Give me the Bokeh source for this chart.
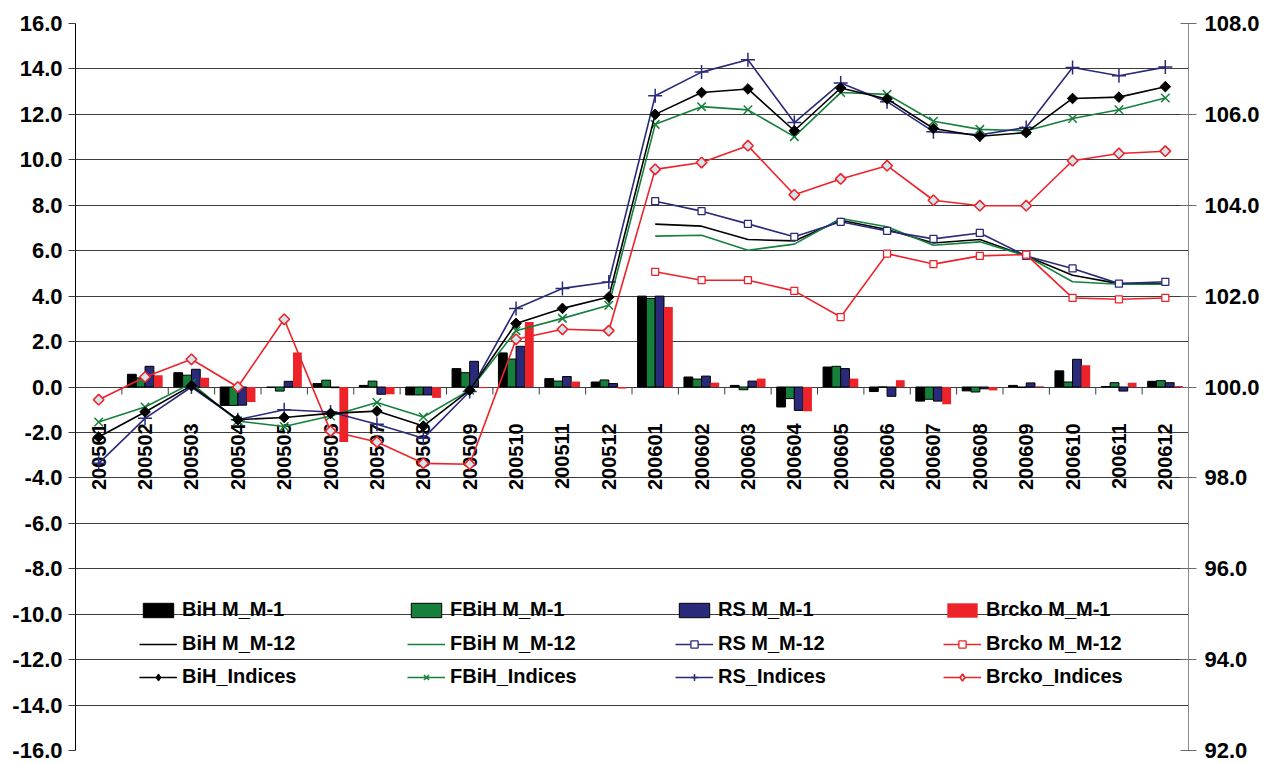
import numpy as np
from bokeh.plotting import figure
from bokeh.models import (ColumnDataSource, Range1d, LinearAxis, FixedTicker,
                          NumeralTickFormatter, Legend, LegendItem)
from bokeh.transform import dodge
from bokeh.core.properties import value
from bokeh.embed import file_html
from bokeh.resources import INLINE

nan = np.nan

categories = ["200501", "200502", "200503", "200504", "200505", "200506",
              "200507", "200508", "200509", "200510", "200511", "200512",
              "200601", "200602", "200603", "200604", "200605", "200606",
              "200607", "200608", "200609", "200610", "200611", "200612"]

# month-on-month change (left axis)
bih_m1 = [nan, 0.56, 0.63, -0.81, -0.02, 0.15, 0.07, -0.35, 0.81, 1.50, 0.37, 0.22,
          4.00, 0.44, 0.07, -0.88, 0.88, -0.20, -0.62, -0.17, 0.07, 0.71, 0.02, 0.25]
fbih_m1 = [nan, 0.40, 0.52, -0.81, -0.18, 0.30, 0.26, -0.35, 0.63, 1.23, 0.26, 0.31,
           3.90, 0.35, -0.12, -0.51, 0.91, 0.00, -0.54, -0.22, -0.02, 0.22, 0.19, 0.28]
rs_m1 = [nan, 0.91, 0.78, -0.80, 0.25, -0.03, -0.32, -0.35, 1.13, 1.79, 0.46, 0.15,
         4.00, 0.48, 0.26, -1.03, 0.81, -0.41, -0.62, -0.08, 0.18, 1.22, -0.18, 0.19]
brcko_m1 = [nan, 0.52, 0.41, -0.66, 1.52, -2.42, -0.32, -0.48, -0.05, 2.86, 0.24, -0.07,
            3.52, 0.19, 0.37, -1.07, 0.37, 0.30, -0.76, -0.15, 0.03, 0.96, 0.19, 0.04]

# year-on-year change (left axis)
bih_m12 = [nan] * 12 + [7.17, 7.08, 6.49, 6.43, 7.34, 6.93, 6.34, 6.49, 5.77, 4.92, 4.55, 4.55]
fbih_m12 = [nan] * 12 + [6.64, 6.68, 6.02, 6.29, 7.42, 7.05, 6.24, 6.39, 5.77, 4.63, 4.52, 4.52]
rs_m12 = [nan] * 12 + [8.18, 7.74, 7.18, 6.61, 7.27, 6.87, 6.52, 6.78, 5.77, 5.22, 4.55, 4.63]
brcko_m12 = [nan] * 12 + [5.07, 4.70, 4.70, 4.23, 3.08, 5.87, 5.41, 5.77, 5.83, 3.92, 3.86, 3.92]

# indices (right axis)
bih_idx = [98.90, 99.45, 100.03, 99.28, 99.33, 99.42, 99.47, 99.14, 99.93, 101.40, 101.73, 101.98,
           106.00, 106.48, 106.56, 105.64, 106.58, 106.34, 105.69, 105.52, 105.60, 106.35, 106.38, 106.61]
fbih_idx = [99.23, 99.56, 100.08, 99.25, 99.13, 99.36, 99.66, 99.34, 99.93, 101.24, 101.51, 101.80,
            105.78, 106.17, 106.10, 105.51, 106.48, 106.44, 105.85, 105.67, 105.64, 105.91, 106.10, 106.36]
rs_idx = [98.32, 99.31, 100.00, 99.28, 99.50, 99.45, 99.18, 98.87, 99.90, 101.73, 102.17, 102.31,
          106.41, 106.93, 107.20, 105.82, 106.69, 106.28, 105.62, 105.55, 105.71, 107.03, 106.85, 107.04]
brcko_idx = [99.72, 100.22, 100.61, 100.00, 101.49, 99.03, 98.79, 98.32, 98.30, 101.05, 101.27, 101.24,
             104.79, 104.94, 105.31, 104.23, 104.58, 104.87, 104.11, 103.99, 103.99, 104.98, 105.14, 105.19]

left_ticks = list(range(-16, 17, 2))
right_ticks = list(range(92, 109, 2))

FONT = "Liberation Sans"
BLACK = "#000000"
GREEN = "#15803b"
NAVY = "#2a2a7a"
RED = "#ee2229"
DIAFILL = "#d2e6ee"
GRID = "#3c3c3c"

n = len(categories)
xs = list(range(n))
src = ColumnDataSource(dict(
    x=xs, cat=categories,
    bih_m1=bih_m1, fbih_m1=fbih_m1, rs_m1=rs_m1, brcko_m1=brcko_m1,
    bih_m12=bih_m12, fbih_m12=fbih_m12, rs_m12=rs_m12, brcko_m12=brcko_m12,
    bih_idx=bih_idx, fbih_idx=fbih_idx, rs_idx=rs_idx, brcko_idx=brcko_idx,
))
bsrc = ColumnDataSource(dict(xb=[i + 0.5 for i in range(n - 1)]))

p = figure(width=1262, height=762,
           x_range=Range1d(-0.5, n - 0.5), y_range=Range1d(left_ticks[0], left_ticks[-1]),
           output_backend="svg", toolbar_location=None, x_axis_location=None,
           min_border_left=75, min_border_right=69, min_border_top=23, min_border_bottom=12)
p.outline_line_color = None
p.background_fill_color = "white"
p.border_fill_color = "white"
p.xgrid.visible = False
p.extra_y_ranges = {"idx": Range1d(right_ticks[0], right_ticks[-1])}

yax = p.yaxis[0]
yax.ticker = FixedTicker(ticks=left_ticks)
yax.formatter = NumeralTickFormatter(format="0.0")
yax.major_label_text_font = FONT
yax.major_label_text_font_style = "bold"
yax.major_label_text_font_size = "22px"
yax.major_label_text_color = BLACK
yax.axis_line_color = BLACK
yax.major_tick_line_color = GRID
yax.major_tick_out = 7
yax.major_tick_in = 0
yax.minor_tick_line_color = None
yax.major_label_standoff = 6

p.ygrid.ticker = FixedTicker(ticks=left_ticks)
p.ygrid.grid_line_color = GRID
p.ygrid.grid_line_width = 1

rax = LinearAxis(y_range_name="idx", ticker=FixedTicker(ticks=right_ticks),
                 formatter=NumeralTickFormatter(format="0.0"))
rax.major_label_text_font = FONT
rax.major_label_text_font_style = "bold"
rax.major_label_text_font_size = "22px"
rax.major_label_text_color = BLACK
rax.axis_line_color = "#8a8a8a"
rax.major_tick_line_color = "#6a6a6a"
rax.major_tick_in = 8
rax.major_tick_out = 8
rax.minor_tick_line_color = None
rax.major_label_standoff = 8
p.add_layout(rax, "right")

# category labels (rotated) under the zero line
p.text(x="x", y=-1.6, text="cat", source=src, angle=np.pi / 2,
       text_align="right", text_baseline="middle",
       text_font=value(FONT), text_font_style="bold", text_font_size="20px",
       text_color=BLACK)

# category tick marks on the zero line
p.segment(x0="xb", y0=0, x1="xb", y1=-0.33, source=bsrc, line_color=GRID, line_width=1)

# bars
bw = 0.19
b1 = p.vbar(x=dodge("x", -0.285), top="bih_m1", bottom=0, width=bw, source=src,
            fill_color=BLACK, line_color=BLACK, line_width=1)
b2 = p.vbar(x=dodge("x", -0.095), top="fbih_m1", bottom=0, width=bw, source=src,
            fill_color=GREEN, line_color=BLACK, line_width=1)
b3 = p.vbar(x=dodge("x", 0.095), top="rs_m1", bottom=0, width=bw, source=src,
            fill_color=NAVY, line_color=BLACK, line_width=1)
b4 = p.vbar(x=dodge("x", 0.285), top="brcko_m1", bottom=0, width=bw, source=src,
            fill_color=RED, line_color=None)

# year-on-year lines
LW = 1.6
l1 = p.line("x", "bih_m12", source=src, line_color=BLACK, line_width=LW)
l2 = p.line("x", "fbih_m12", source=src, line_color=GREEN, line_width=LW)
l3 = p.line("x", "rs_m12", source=src, line_color=NAVY, line_width=LW)
l3m = p.scatter("x", "rs_m12", source=src, marker="square", size=7,
                line_color=NAVY, fill_color="white", line_width=1.3)
l4 = p.line("x", "brcko_m12", source=src, line_color=RED, line_width=LW)
l4m = p.scatter("x", "brcko_m12", source=src, marker="square", size=7,
                line_color=RED, fill_color="white", line_width=1.3)

# indices (right axis)
i4 = p.line("x", "brcko_idx", source=src, y_range_name="idx", line_color=RED, line_width=LW)
i4k = p.scatter("x", "brcko_idx", source=src, y_range_name="idx", marker="diamond",
                size=6, line_color=RED, fill_color=DIAFILL, line_width=1.6)
i4m = p.scatter("x", "brcko_idx", source=src, y_range_name="idx", marker="square",
                angle=np.pi / 4, size=7.5, line_color=RED, fill_color=DIAFILL, line_width=1.6)
i2 = p.line("x", "fbih_idx", source=src, y_range_name="idx", line_color=GREEN, line_width=LW)
i2m = p.scatter("x", "fbih_idx", source=src, y_range_name="idx", marker="x",
                size=12, line_color=GREEN, line_width=1.5)
i3 = p.line("x", "rs_idx", source=src, y_range_name="idx", line_color=NAVY, line_width=LW)
i3m = p.scatter("x", "rs_idx", source=src, y_range_name="idx", marker="cross",
                size=14, line_color=NAVY, line_width=1.5)
i1 = p.line("x", "bih_idx", source=src, y_range_name="idx", line_color=BLACK, line_width=LW)
i1k = p.scatter("x", "bih_idx", source=src, y_range_name="idx", marker="diamond",
                size=6, line_color=BLACK, fill_color=BLACK, line_width=1)
i1m = p.scatter("x", "bih_idx", source=src, y_range_name="idx", marker="square",
                angle=np.pi / 4, size=7.5, line_color=BLACK, fill_color=BLACK, line_width=1)

rows = [
    [("BiH M_M-1", [b1]), ("FBiH M_M-1", [b2]), ("RS M_M-1", [b3]), ("Brcko M_M-1", [b4])],
    [("BiH M_M-12", [l1]), ("FBiH M_M-12", [l2]), ("RS M_M-12", [l3, l3m]), ("Brcko M_M-12", [l4, l4m])],
    [("BiH_Indices", [i1, i1k]), ("FBiH_Indices", [i2, i2m]), ("RS_Indices", [i3, i3m]), ("Brcko_Indices", [i4, i4k])],
]
row_y = [129, 95, 62]
for items, ly in zip(rows, row_y):
    leg = Legend(items=[LegendItem(label=lab, renderers=r) for lab, r in items],
                 orientation="horizontal", location=(64, ly),
                 glyph_width=38, glyph_height=18, label_standoff=5, label_width=225,
                 label_height=18, spacing=0, padding=0, margin=0,
                 border_line_color=None, background_fill_alpha=0,
                 label_text_font=FONT, label_text_font_style="bold",
                 label_text_font_size="20px", label_text_color=BLACK)
    p.add_layout(leg)

open("out.html", "w").write(file_html(p, INLINE))
